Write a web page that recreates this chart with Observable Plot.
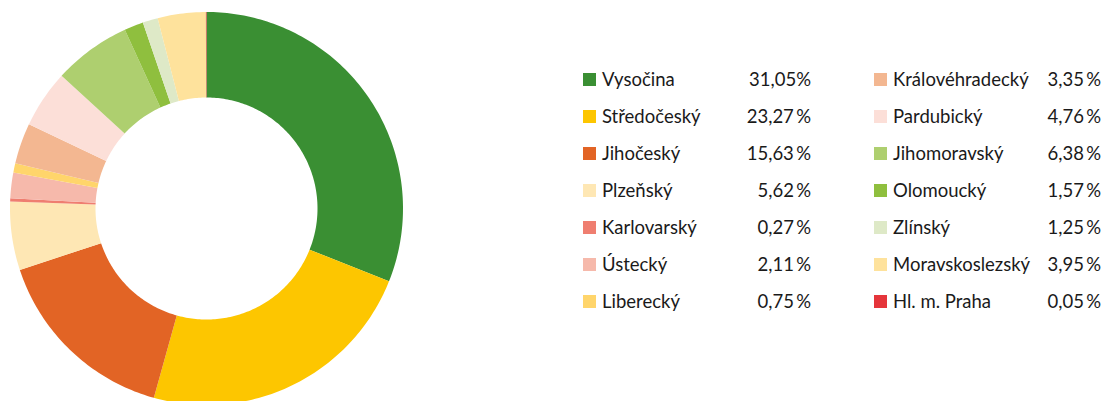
<!DOCTYPE html>
<html>
<head>
<meta charset="utf-8">
<script src="https://cdn.jsdelivr.net/npm/d3@7"></script>
<script src="https://cdn.jsdelivr.net/npm/@observablehq/plot@0.6"></script>
<style>
  html, body { margin: 0; padding: 0; background: #fff; }
  #wrap { position: relative; width: 1105px; height: 401px; overflow: hidden; font-family: Lato, "Open Sans", sans-serif; }
  #chart { position: absolute; left: 0; top: 0; }
  .item { position: absolute; height: 22px; line-height: 22px; font-size: 18.5px; color: #1a1a1a; white-space: nowrap; }
  .sw { position: absolute; top: 5px; width: 13px; height: 13px; }
  .lab { position: absolute; }
  .val { position: absolute; text-align: right; }
</style>
</head>
<body>
<div id="wrap"><div id="chart"></div><div id="legend"></div></div>
<script>
const regions = ["Vysočina","Středočeský","Jihočeský","Plzeňský","Karlovarský","Ústecký","Liberecký",
                 "Královéhradecký","Pardubický","Jihomoravský","Olomoucký","Zlínský","Moravskoslezský","Hl. m. Praha"];
const shares = [31.05, 23.27, 15.63, 5.62, 0.27, 2.11, 0.75, 3.35, 4.76, 6.38, 1.57, 1.25, 3.95, 0.05];
const shareLabels = ["31,05%","23,27\u2009%","15,63\u2009%","5,62\u2009%","0,27\u2009%","2,11\u2009%","0,75\u2009%",
                     "3,35\u2009%","4,76\u2009%","6,38\u2009%","1,57\u2009%","1,25\u2009%","3,95\u2009%","0,05\u2009%"];
const colors = ["#3a8f33","#fdc600","#e26425","#fee7b4","#ef7e70","#f6b9ab","#ffd56b",
                "#f3b791","#fcdfd8","#aecf6f","#8fbf3e","#dee9c7","#fee29c","#e5353b"];

// build ring polygons (data space: unit radius outer)
const innerR = 111 / 196.5;
const total = d3.sum(shares);
const pts = [];
let acc = 0;
regions.forEach((name, i) => {
  const a0 = acc / total * 2 * Math.PI;
  acc += shares[i];
  const a1 = acc / total * 2 * Math.PI;
  const n = Math.max(2, Math.ceil((a1 - a0) / (Math.PI / 180)));
  for (let k = 0; k <= n; k++) {
    const a = a0 + (a1 - a0) * k / n;
    pts.push({name, x: Math.sin(a), y: Math.cos(a)});
  }
  for (let k = n; k >= 0; k--) {
    const a = a0 + (a1 - a0) * k / n;
    pts.push({name, x: innerR * Math.sin(a), y: innerR * Math.cos(a)});
  }
});

const cx = 206, cy = 208, R = 196.5;
const chart = Plot.plot({
  width: 1105,
  height: 401,
  margin: 0,
  x: {domain: [-1, 1], range: [cx - R, cx + R], axis: null},
  y: {domain: [-1, 1], range: [cy + R, cy - R], axis: null},
  color: {domain: regions, range: colors},
  marks: [
    Plot.line(pts, {x: "x", y: "y", z: "name", fill: "name", stroke: "none", curve: "linear-closed"})
  ]
});
document.getElementById("chart").appendChild(chart);

// legend
const legend = document.getElementById("legend");
const cols = [{sw: 583, lab: 602, valRight: 811}, {sw: 874, lab: 893, valRight: 1101}];
regions.forEach((name, i) => {
  const c = cols[i < 7 ? 0 : 1];
  const row = i % 7;
  const cyL = 79 + 37 * row;
  const item = document.createElement("div");
  item.className = "item";
  item.style.left = "0px";
  item.style.top = (cyL - 11) + "px";
  item.style.width = "1105px";
  const sw = document.createElement("div");
  sw.className = "sw"; sw.style.left = c.sw + "px"; sw.style.background = colors[i];
  const lab = document.createElement("div");
  lab.className = "lab"; lab.style.left = c.lab + "px"; lab.textContent = name;
  const val = document.createElement("div");
  val.className = "val"; val.style.right = (1105 - c.valRight) + "px"; val.textContent = shareLabels[i];
  item.appendChild(sw); item.appendChild(lab); item.appendChild(val);
  legend.appendChild(item);
});
</script>
</body>
</html>
